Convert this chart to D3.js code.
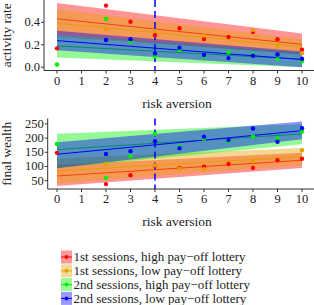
<!DOCTYPE html>
<html>
<head>
<meta charset="utf-8">
<script src="https://cdn.jsdelivr.net/npm/d3@7"></script>
<style>
  body { margin: 0; background: #fff; }
  svg text { font-family: "Liberation Serif", serif; fill: #222; }
</style>
</head>
<body>
<script>
// risk aversion values where points exist
var xs = [0, 2, 3, 4, 5, 6, 7, 8, 9, 10];

var seriesNames = ["1st sessions, high pay\u2212off lottery", "1st sessions, low pay\u2212off lottery",
  "2nd sessions, high pay\u2212off lottery", "2nd sessions, low pay\u2212off lottery"];
var seriesColors = ["#ff0000", "#e69f00", "#00f000", "#0000ff"];

// activity rate (top panel)
var rateRed    = [0.168, 0.55, 0.405, 0.285, 0.348, 0.252, 0.27, 0.315, 0.25, 0.155];
var rateOrange = [null, 0.34, null, 0.324, null, 0.282, null, 0.333, 0.19, 0.125];
var rateGreen  = [0.024, 0.43, 0.23, 0.095, 0.153, 0.093, 0.132, 0.114, 0.072, 0.052];
var rateBlue   = [null, 0.243, 0.25, 0.123, 0.174, 0.108, 0.081, 0.102, 0.113, 0.075];
// fitted line [at 0, at 10] and band [lo0, hi0, lo10, hi10]
var rateFit  = [[0.432, 0.204], [0.394, 0.18], [0.19, 0.07], [0.237, 0.068]];
var rateBand = [[0.29, 0.574, 0.11, 0.30], [0.27, 0.52, 0.12, 0.25], [0.087, 0.29, 0.0, 0.13], [0.15, 0.325, 0.0, 0.14]];

// final wealth (bottom panel)
var wealthRed    = [148, 38, 69, 102, 95, 99.5, 109, 95, 122, 127];
var wealthOrange = [null, 109, null, 104, 92, 90, null, 119.5, null, 157];
var wealthGreen  = [179, 60, 137, 215, 170, 198, 188, 205, 199, 223];
var wealthBlue   = [null, 144, 154, 189, 164, 205, 193, 234, 187, 235];
var wealthFit  = [[66.6, 122], [84, 135], [159.5, 215], [143, 226]];
var wealthBand = [[31, 105, 95, 148], [40, 128, 105, 165], [95, 215, 178, 250], [94, 185, 196, 258]];

var xTicks = [0, 1, 2, 3, 4, 5, 6, 7, 8, 9, 10];
var rateTicks = [0.0, 0.2, 0.4];
var wealthTicks = [50, 100, 150, 200, 250];
var markerX = 4;

var width = 314, height = 305;
var svg = d3.select("body").append("svg").attr("width", width).attr("height", height);

var x = d3.scaleLinear().domain([0, 10]).range([57, 302]);

function panel(p) {
  var y = d3.scaleLinear().domain(p.domain).range(p.range);
  var g = svg.append("g");
  var left = p.left, bottom = p.range[0];

  // bands and fitted lines, series by series
  p.band.forEach(function(b, i) {
    var pts = [[0, b[0]], [10, b[2]], [10, b[3]], [0, b[1]]];
    g.append("path")
      .attr("d", d3.line().x(function(d) { return x(d[0]); }).y(function(d) { return y(d[1]); })(pts) + "Z")
      .attr("fill", seriesColors[i]).attr("fill-opacity", 0.42);
    g.append("line")
      .attr("x1", x(0)).attr("x2", x(10))
      .attr("y1", y(p.fit[i][0])).attr("y2", y(p.fit[i][1]))
      .attr("stroke", seriesColors[i]).attr("stroke-width", 1);
  });

  g.append("line")
    .attr("x1", x(markerX)).attr("x2", x(markerX))
    .attr("y1", p.range[1]).attr("y2", bottom)
    .attr("stroke", "#0000ff").attr("stroke-width", 1.5)
    .attr("stroke-dasharray", "7,4");

  p.values.forEach(function(vals, i) {
    g.selectAll(null).data(xs.map(function(v, j) { return [v, vals[j]]; }).filter(function(d) { return d[1] != null; }))
      .enter().append("circle")
      .attr("cx", function(d) { return x(d[0]); })
      .attr("cy", function(d) { return y(d[1]); })
      .attr("r", 2.2)
      .attr("fill", seriesColors[i]);
  });

  // axes
  g.append("line").attr("x1", left).attr("x2", 314).attr("y1", bottom).attr("y2", bottom)
    .attr("stroke", "#333").attr("stroke-width", 1);
  g.append("line").attr("x1", left).attr("x2", left).attr("y1", p.range[1]).attr("y2", bottom)
    .attr("stroke", "#333").attr("stroke-width", 1);

  xTicks.forEach(function(t) {
    g.append("line").attr("x1", x(t)).attr("x2", x(t)).attr("y1", bottom).attr("y2", bottom + 3)
      .attr("stroke", "#333");
    g.append("text").attr("x", x(t)).attr("y", bottom + 14)
      .attr("text-anchor", "middle").attr("font-size", 12.5).text(t);
  });
  p.ticks.forEach(function(t) {
    g.append("line").attr("x1", left - 3).attr("x2", left).attr("y1", y(t)).attr("y2", y(t))
      .attr("stroke", "#333");
    g.append("text").attr("x", left - 4).attr("y", y(t) + 4)
      .attr("text-anchor", "end").attr("font-size", 12.5).text(p.fmt(t));
  });

  g.append("text").attr("x", 177).attr("y", bottom + 37)
    .attr("text-anchor", "middle").attr("font-size", 13.5).text("risk aversion");
  g.append("text")
    .attr("transform", "translate(11," + ((p.range[1] + bottom) / 2) + ") rotate(-90)")
    .attr("text-anchor", "middle").attr("font-size", 13.5).text(p.title);
}

panel({
  domain: [-0.03, 0.6], range: [70.5, 0], left: 44,
  values: [rateRed, rateOrange, rateGreen, rateBlue],
  fit: rateFit, band: rateBand, ticks: rateTicks,
  fmt: d3.format(".1f"), title: "activity rate"
});

panel({
  domain: [20.7, 269], range: [189, 118.5], left: 47.7,
  values: [wealthRed, wealthOrange, wealthGreen, wealthBlue],
  fit: wealthFit, band: wealthBand, ticks: wealthTicks,
  fmt: d3.format("d"), title: "final wealth"
});

// legend
var legend = svg.append("g");
seriesNames.forEach(function(name, i) {
  var cy = 257 + i * 13.8;
  legend.append("rect").attr("x", 61).attr("y", cy - 6.5).attr("width", 11).attr("height", 13)
    .attr("fill", seriesColors[i]).attr("fill-opacity", 0.4);
  legend.append("line").attr("x1", 61).attr("x2", 72).attr("y1", cy).attr("y2", cy)
    .attr("stroke", seriesColors[i]).attr("stroke-width", 1);
  legend.append("circle").attr("cx", 66.5).attr("cy", cy).attr("r", 2).attr("fill", seriesColors[i]);
  legend.append("text").attr("x", 73.5).attr("y", cy + 4.2)
    .attr("font-size", 13).text(name);
});
</script>
</body>
</html>
